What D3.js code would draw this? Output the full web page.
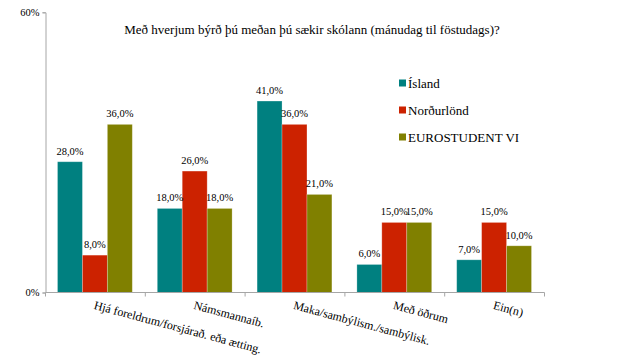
<!DOCTYPE html>
<html>
<head>
<meta charset="utf-8">
<script src="https://cdn.jsdelivr.net/npm/d3@7/dist/d3.min.js"></script>
<style>
  body { margin: 0; background: #fff; }
  svg { display: block; font-family: "Liberation Serif", "Times New Roman", serif; }
</style>
</head>
<body>
<div id="chart"></div>
<script>
// Chart data
const categories = ['Hjá foreldrum/forsjárað. eða ætting.', 'Námsmannaíb.', 'Maka/sambýlism./sambýlisk.', 'Með öðrum', 'Ein(n)'];
const seriesNames = ['Ísland', 'Norðurlönd', 'EUROSTUDENT VI'];
const island = [28, 18, 41, 6, 7];
const nordurlond = [8, 26, 36, 15, 15];
const eurostudent = [36, 18, 21, 15, 10];
const yTicks = [0, 60];
const colors = ['#008080', '#cc2200', '#808000'];

const series = [island, nordurlond, eurostudent];
const width = 631, height = 363;

const svg = d3.select('#chart').append('svg')
    .attr('width', width)
    .attr('height', height);

const x = d3.scaleBand()
    .domain(categories)
    .range([45.5, 544.5])
    .paddingInner(0)
    .paddingOuter(0);

const xInner = d3.scaleBand()
    .domain(d3.range(seriesNames.length))
    .range([12, x.bandwidth() - 13]);

const y = d3.scaleLinear()
    .domain([0, 60])
    .range([292.5, 12.3]);

// Title
svg.append('text')
    .attr('x', 312)
    .attr('y', 34)
    .attr('text-anchor', 'middle')
    .attr('font-size', '13px')
    .attr('fill', '#000')
    .text('Með hverjum býrð þú meðan þú sækir skólann (mánudag til föstudags)?');

// Bars
const groups = svg.append('g')
    .selectAll('g')
    .data(categories)
    .join('g')
    .attr('transform', d => `translate(${x(d)},0)`);

groups.selectAll('rect')
    .data((d, i) => series.map((s, j) => ({ j, v: s[i] })))
    .join('rect')
    .attr('x', d => xInner(d.j))
    .attr('y', d => y(d.v))
    .attr('width', xInner.bandwidth())
    .attr('height', d => y(0) - y(d.v))
    .attr('fill', d => colors[d.j])
    .attr('stroke', 'rgba(255,255,255,0.3)')
    .attr('stroke-width', 0.8);

// Data labels
groups.selectAll('text.val')
    .data((d, i) => series.map((s, j) => ({ j, v: s[i] })))
    .join('text')
    .attr('class', 'val')
    .attr('x', d => xInner(d.j) + xInner.bandwidth() / 2)
    .attr('y', d => y(d.v) - 7)
    .attr('text-anchor', 'middle')
    .attr('font-size', '10.5px')
    .attr('fill', '#000')
    .text(d => d3.format('.1f')(d.v).replace('.', ',') + '%');

// Y axis
const yAxis = svg.append('g')
    .attr('transform', 'translate(45.5,0)')
    .call(d3.axisLeft(y).tickValues(yTicks).tickSize(3).tickFormat(d => d + '%'));
yAxis.select('.domain').attr('stroke', '#a6a6a6');
yAxis.selectAll('.tick line').attr('stroke', '#a6a6a6');
yAxis.selectAll('.tick text')
    .attr('font-family', '"Liberation Serif", serif')
    .attr('font-size', '10.5px')
    .attr('fill', '#000')
    .attr('x', -6);

// X axis line and ticks at band edges
const xEdges = categories.map(c => x(c)).concat([x.range()[1]]);
const xAxis = svg.append('g');
xAxis.append('line')
    .attr('x1', x.range()[0]).attr('x2', x.range()[1])
    .attr('y1', y(0)).attr('y2', y(0))
    .attr('stroke', '#a6a6a6');
xAxis.selectAll('line.tk')
    .data(xEdges)
    .join('line')
    .attr('class', 'tk')
    .attr('x1', d => d).attr('x2', d => d)
    .attr('y1', y(0)).attr('y2', y(0) + 4)
    .attr('stroke', '#a6a6a6');

// Category labels, rotated
xAxis.selectAll('text')
    .data(categories)
    .join('text')
    .attr('transform', d => `translate(${x(d) + x.bandwidth() / 2},${y(0) + 8}) rotate(15)`)
    .attr('dy', '0.71em')
    .attr('text-anchor', 'start')
    .attr('font-size', '12px')
    .attr('fill', '#000')
    .text(d => d);

// Legend
const legend = svg.append('g')
    .selectAll('g')
    .data(seriesNames)
    .join('g')
    .attr('transform', (d, i) => `translate(399,${83 + i * 27})`);

legend.append('rect')
    .attr('x', 0).attr('y', -3.5)
    .attr('width', 7).attr('height', 7)
    .attr('fill', (d, i) => colors[i]);

legend.append('text')
    .attr('x', 9)
    .attr('y', 5)
    .attr('font-size', '13px')
    .attr('fill', '#000')
    .text(d => d);
</script>
</body>
</html>
